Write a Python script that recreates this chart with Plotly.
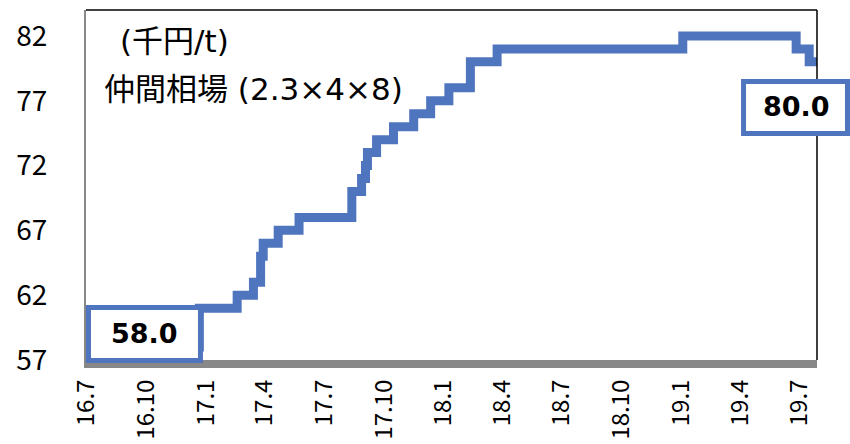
import plotly.graph_objects as go
import pandas as pd

# Price change dates and the price (千円/t) that applies from each date
change_dates = ["2016-07-01", "2016-12-22", "2017-02-18", "2017-03-15", "2017-03-26",
                "2017-03-30", "2017-04-22", "2017-05-24", "2017-08-13", "2017-08-28",
                "2017-09-03", "2017-09-06", "2017-09-20", "2017-10-16", "2017-11-16",
                "2017-12-12", "2018-01-09", "2018-02-11", "2018-03-24", "2019-01-03",
                "2019-06-26", "2019-07-16", "2019-07-28"]
prices = [58, 61, 62, 63, 65, 66, 67, 68, 70, 71, 72, 73, 74, 75, 76, 77, 78,
          80, 81, 82, 81, 80, 80]

x_labels = ["16.7", "16.10", "17.1", "17.4", "17.7", "17.10", "18.1", "18.4",
            "18.7", "18.10", "19.1", "19.4", "19.7"]
y_ticks = [57, 62, 67, 72, 77, 82]

BLUE = "#5075BF"
GRAY = "#888888"
FONT = "Noto Sans CJK JP"
TEXT_FONT = "DejaVu Sans, Noto Sans CJK JP"

tick_dates = pd.date_range("2016-07-01", periods=len(x_labels), freq="3MS")

fig = go.Figure()
fig.add_trace(go.Scatter(
    x=change_dates, y=prices, mode="lines", line_shape="hv",
    line=dict(color=BLUE, width=9), hoverinfo="skip", showlegend=False,
))

# plot-area frame: top and right thin black, left gray
fig.add_shape(type="line", xref="paper", yref="paper", x0=0, x1=1, y0=1, y1=1,
              line=dict(color="black", width=1.5))
fig.add_shape(type="line", xref="paper", yref="paper", x0=1, x1=1, y0=0, y1=1,
              line=dict(color="black", width=1.5))

# unit and product notes
fig.add_annotation(xref="paper", yref="paper", x=0.044, y=0.91, xanchor="left",
                   yanchor="middle", text="(千円/t)", showarrow=False,
                   font=dict(family=TEXT_FONT, size=31, color="black"))
fig.add_annotation(xref="paper", yref="paper", x=0.022, y=0.774, xanchor="left",
                   yanchor="middle", text="仲間相場 (2.3×4×8)", showarrow=False,
                   font=dict(family=TEXT_FONT, size=31, color="black"))

# boxed first and last values
box_line = dict(color=BLUE, width=5)
fig.add_shape(type="rect", xref="paper", yref="paper", x0=0.0034, x1=0.1566,
              y0=-0.0014, y1=0.15, fillcolor="white", line=box_line, layer="above")
fig.add_shape(type="rect", xref="paper", yref="paper", x0=0.8995, x1=1.0417,
              y0=0.647, y1=0.7957, fillcolor="white", line=box_line, layer="above")
val_font = dict(family="DejaVu Sans", size=27, color="black")
fig.add_annotation(xref="paper", yref="paper", x=0.0807, y=0.0771,
                   xanchor="center", yanchor="middle", showarrow=False,
                   text=f"<b>{prices[0]:.1f}</b>", font=val_font)
fig.add_annotation(xref="paper", yref="paper", x=0.9726, y=0.7229,
                   xanchor="center", yanchor="middle", showarrow=False,
                   text=f"<b>{prices[-1]:.1f}</b>", font=val_font)

fig.update_layout(
    width=850, height=444,
    margin=dict(l=86, r=33, t=10, b=84),
    paper_bgcolor="white", plot_bgcolor="white",
    font=dict(family=FONT, color="black"),
    xaxis=dict(
        type="date", range=["2016-07-01", "2019-07-28"], automargin=False,
        tickvals=tick_dates, ticktext=x_labels, tickangle=-90,
        showgrid=False, zeroline=False, ticks="",
        showline=True, linecolor=GRAY, linewidth=8,
        tickfont=dict(family=FONT, size=24, color="black"),
        ticklabelstandoff=2,
    ),
    yaxis=dict(
        range=[57, 84], tickvals=y_ticks, showgrid=False, zeroline=False,
        automargin=False,
        ticks="", showline=True, linecolor=GRAY, linewidth=2,
        tickfont=dict(family=FONT, size=28, color="black"),
        ticklabelstandoff=31,
    ),
)

fig.write_html("out.html")
